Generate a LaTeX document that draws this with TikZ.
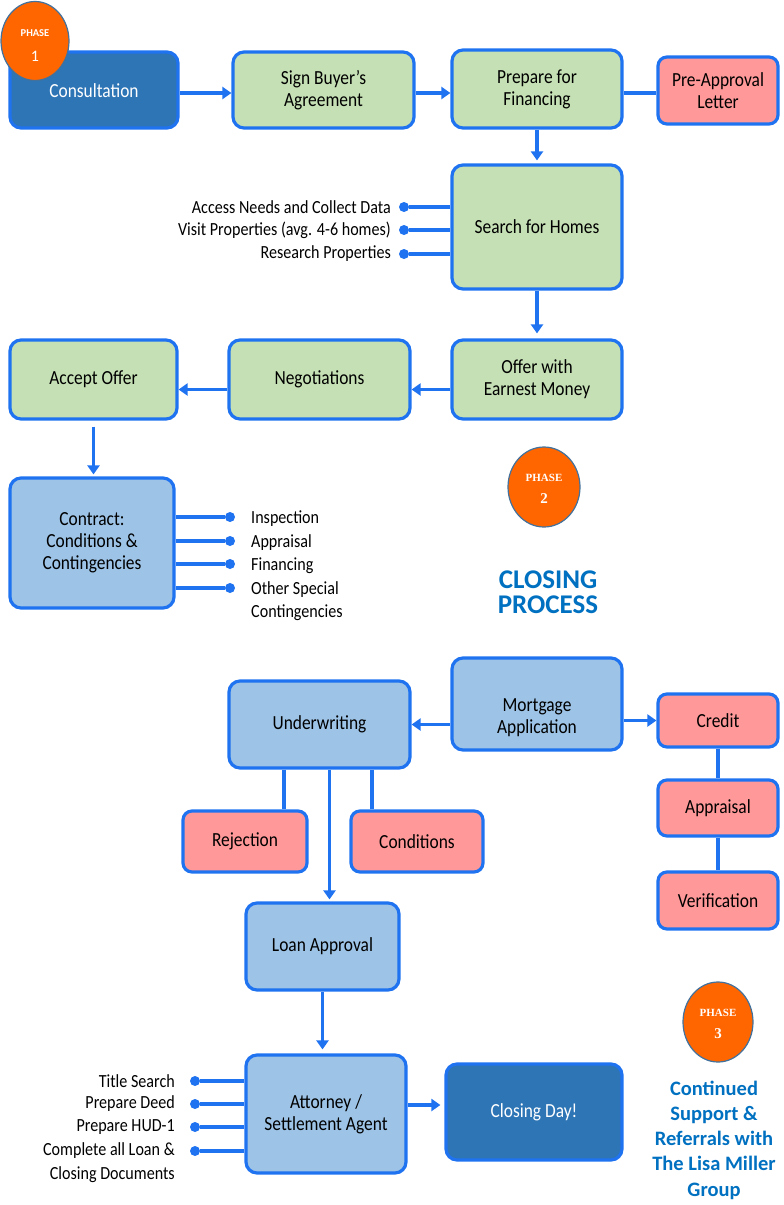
\documentclass[tikz,border=0pt]{standalone}
\usepackage{fontspec}
\setmainfont{Carlito}[FakeStretch=0.87]
\newfontfamily\ttlfont{Carlito}
\newfontfamily\serifph{Liberation Serif}
\usetikzlibrary{arrows.meta,shapes.geometric}
\definecolor{bblue}{RGB}{31,115,240}
\definecolor{gfill}{RGB}{197,224,180}
\definecolor{lbfill}{RGB}{157,195,230}
\definecolor{dbfill}{RGB}{46,117,182}
\definecolor{pfill}{RGB}{255,153,153}
\definecolor{ofill}{RGB}{255,102,0}
\definecolor{oedge}{RGB}{65,113,156}
\definecolor{tblue}{RGB}{0,112,192}
\tikzset{
  box/.style={draw=bblue, line width=3.2pt, rounded corners=11pt, align=center, inner sep=0pt, font=\fontsize{20}{22}\selectfont},
  gbox/.style={box, fill=gfill},
  lbox/.style={box, fill=lbfill},
  dbox/.style={box, fill=dbfill, text=white},
  pbox/.style={box, fill=pfill, rounded corners=9pt},
  conn/.style={draw=bblue, line width=3.2pt},
  arr/.style={conn, -{Triangle[length=9pt,width=12pt]}},
  dot/.style={circle, fill=bblue, inner sep=0pt, minimum size=10pt},
  lbl/.style={font=\fontsize{18.5}{22}\selectfont, inner sep=0pt},
  phase/.style={ellipse, draw=oedge, line width=1.2pt, fill=ofill, text=white, inner sep=0pt},
  ttl/.style={text=tblue, font=\ttlfont\bfseries\fontsize{27}{25}\selectfont, align=center, inner sep=0pt},
}
\begin{document}
\begin{tikzpicture}[x=1pt,y=-1pt]
\useasboundingbox (0,0) rectangle (784,1205);
% phase 1
\node[dbox, minimum width=168pt, minimum height=76pt] (cons) at (94,90) {};
\node[text=white, font=\fontsize{20}{22}\selectfont, inner sep=0pt] (constext) at (94,91) {Consultation};
\node[phase, minimum width=68pt, minimum height=79pt] (ph1) at (35,41) {};
\node[text=white, font=\ttlfont\bfseries\fontsize{10.5}{11}\selectfont, inner sep=0pt] (ph1a) at (35,33) {PHASE};
\node[text=white, font=\ttlfont\fontsize{16}{17}\selectfont, inner sep=0pt] (ph1b) at (35,56) {1};
\node[gbox, minimum width=181pt, minimum height=76pt] (sign) at (323.5,90) {Sign Buyer's\\Agreement};
\node[gbox, minimum width=170pt, minimum height=78pt] (prep) at (537,89) {Prepare for\\Financing};
\node[pbox, minimum width=120pt, minimum height=67pt] (pre) at (718,90.5) {Pre-Approval\\Letter};
\node[gbox, minimum width=170pt, minimum height=124pt] (search) at (537,227) {Search for Homes};
\node[gbox, minimum width=170pt, minimum height=79pt] (offer) at (537,379.5) {Offer with\\Earnest Money};
\node[gbox, minimum width=181pt, minimum height=79pt] (neg) at (319.5,379.5) {Negotiations};
\node[gbox, minimum width=167pt, minimum height=79pt] (acc) at (93.5,379.5) {Accept Offer};
\node[lbox, minimum width=164pt, minimum height=130pt] (contract) at (92,543) {Contract:\\Conditions \&\\Contingencies};

\draw[arr] (cons.east |- 0,93) -- (sign.west |- 0,93);
\draw[arr] (sign.east |- 0,93) -- (prep.west |- 0,93);
\draw[conn] (prep.east |- 0,93) -- (pre.west |- 0,93);
\draw[arr, shorten >=3pt] (prep.south) -- (search.north);
\draw[arr, shorten >=5pt] (search.south) -- (offer.north);
\draw[arr] ([yshift=-10pt]offer.west) -- ([yshift=-10pt]neg.east);
\draw[arr] ([yshift=-10pt]neg.west) -- ([yshift=-10pt]acc.east);
\draw[arr, shorten <=6pt, shorten >=2pt] (acc.south) -- (acc.south |- contract.north);

% search bullets
\foreach \n/\y/\t in {s1/207/Access Needs and Collect Data, s2/230/Visit Properties (avg. 4-6 homes), s3/254/Research Properties}{
  \node[dot] (\n) at (404,\y) {};
  \node[lbl, anchor=east] (\n t) at (391,\y) {\t};
  \draw[conn] (\n) -- (\n -| search.west);
}
% contract bullets
\foreach \n/\y/\t in {c1/517/Inspection, c2/541/Appraisal, c3/564/Financing, c4/588/Other Special}{
  \node[dot] (\n) at (230,\y) {};
  \node[lbl, anchor=west] (\n t) at (251,\y+2) {\t};
  \draw[conn] (\n) -- (\n -| contract.east);
}
\node[lbl, anchor=west] (c5t) at (251,613) {Contingencies};

% phase 2
\node[phase, minimum width=72pt, minimum height=80pt] (ph2) at (544,487) {};
\node[text=white, font=\serifph\bfseries\fontsize{11}{12}\selectfont, inner sep=0pt] (ph2a) at (544,478) {PHASE};
\node[text=white, font=\serifph\bfseries\fontsize{15}{16}\selectfont, inner sep=0pt] (ph2b) at (544,499) {2};
\node[ttl] (closing) at (548,592) {CLOSING\\PROCESS};

\node[lbox, minimum width=170pt, minimum height=92pt] (mort) at (537,704) {};
\node[inner sep=0pt, align=center, font=\fontsize{20}{22}\selectfont] (morttext) at (537,718) {Mortgage\\Application};
\node[lbox, minimum width=181pt, minimum height=87pt] (under) at (319.5,724.5) {Underwriting};
\node[pbox, minimum width=120pt, minimum height=53pt] (credit) at (718,720.5) {Credit};
\node[pbox, minimum width=120pt, minimum height=56pt] (appr) at (718,808) {Appraisal};
\node[pbox, minimum width=120pt, minimum height=57pt] (verif) at (718,900.5) {Verification};
\node[pbox, minimum width=124pt, minimum height=61pt] (rej) at (245,841.5) {Rejection};
\node[pbox, minimum width=132pt, minimum height=61pt] (cond) at (417,841.5) {Conditions};
\node[lbox, minimum width=153pt, minimum height=87pt] (loan) at (322.5,946.5) {Loan Approval};
\node[lbox, minimum width=160pt, minimum height=118pt] (att) at (326,1114) {Attorney /\\Settlement Agent};
\node[dbox, minimum width=176pt, minimum height=96pt] (close) at (534,1112) {Closing Day!};

\draw[arr] (mort.west |- under.east) -- (under.east);
\draw[arr] (mort.east |- credit.west) -- (credit.west);
\draw[conn] (credit.south) -- (appr.north);
\draw[conn] (appr.south) -- (verif.north);
\draw[conn] ([xshift=39pt]rej.north) -- ([xshift=39pt]rej.north |- under.south);
\draw[conn] ([xshift=-45pt]cond.north) -- ([xshift=-45pt]cond.north |- under.south);
\draw[arr, shorten >=2pt] ([xshift=10pt]under.south) -- ([xshift=10pt]under.south |- loan.north);
\draw[arr, shorten >=4pt] (loan.south) -- (loan.south |- att.north);
\draw[arr, shorten >=4pt] ([yshift=9pt]att.east) -- ([yshift=9pt]att.east -| close.west);

% attorney bullets
\foreach \n/\y/\t in {a1/1081/Title Search, a2/1104/Prepare Deed, a3/1127/Prepare HUD-1, a4/1151/Complete all Loan \&}{
  \node[dot] (\n) at (195,\y) {};
  \node[lbl, anchor=east] (\n t) at (175,\y) {\t};
  \draw[conn] (\n) -- (\n -| att.west);
}
\node[lbl, anchor=east] (a5t) at (175,1175) {Closing Documents};

% phase 3
\node[phase, minimum width=70pt, minimum height=80pt] (ph3) at (718,1022) {};
\node[text=white, font=\serifph\bfseries\fontsize{11}{12}\selectfont, inner sep=0pt] (ph3a) at (718,1013) {PHASE};
\node[text=white, font=\serifph\bfseries\fontsize{15}{16}\selectfont, inner sep=0pt] (ph3b) at (718,1034) {3};
\node[ttl, font=\ttlfont\bfseries\fontsize{20.5}{25.3}\selectfont] (cont) at (714,1140) {Continued\\Support \&\\Referrals with\\The Lisa Miller\\Group};
\end{tikzpicture}
\end{document}
